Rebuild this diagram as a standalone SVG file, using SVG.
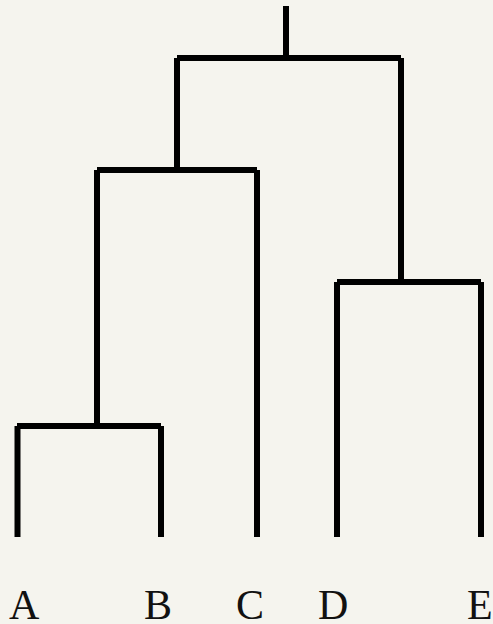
<svg xmlns="http://www.w3.org/2000/svg" width="493" height="624" viewBox="0 0 493 624">
<style>
.l{stroke:#000;stroke-width:6;fill:none;stroke-linecap:butt}
.t{font-family:"Liberation Serif","Times New Roman",serif;font-size:42px;fill:#111}
</style>
<rect width="493" height="624" fill="#f5f4ee"/>
<g id="connectors">
<line class="l" x1="286" y1="6" x2="286" y2="55"/>
<line class="l" x1="177" y1="58" x2="401" y2="58"/>
<line class="l" x1="177" y1="58" x2="177" y2="170"/>
<line class="l" x1="401" y1="58" x2="401" y2="282"/>
<line class="l" x1="97" y1="170" x2="257" y2="170"/>
<line class="l" x1="97" y1="170" x2="97" y2="426"/>
<line class="l" x1="257" y1="170" x2="257" y2="537"/>
<line class="l" x1="17" y1="426" x2="161" y2="426"/>
<line class="l" x1="17.5" y1="426" x2="17.5" y2="537"/>
<line class="l" x1="161" y1="426" x2="161" y2="537"/>
<line class="l" x1="337" y1="282" x2="481" y2="282"/>
<line class="l" x1="337" y1="282" x2="337" y2="537"/>
<line class="l" x1="481" y1="282" x2="481" y2="537"/>
</g>
<g id="A"><text class="t" x="9" y="619">A</text></g>
<g id="B"><text class="t" x="144" y="619">B</text></g>
<g id="C"><text class="t" x="236" y="619">C</text></g>
<g id="D"><text class="t" x="318" y="619">D</text></g>
<g id="E"><text class="t" x="467" y="619">E</text></g>
</svg>
